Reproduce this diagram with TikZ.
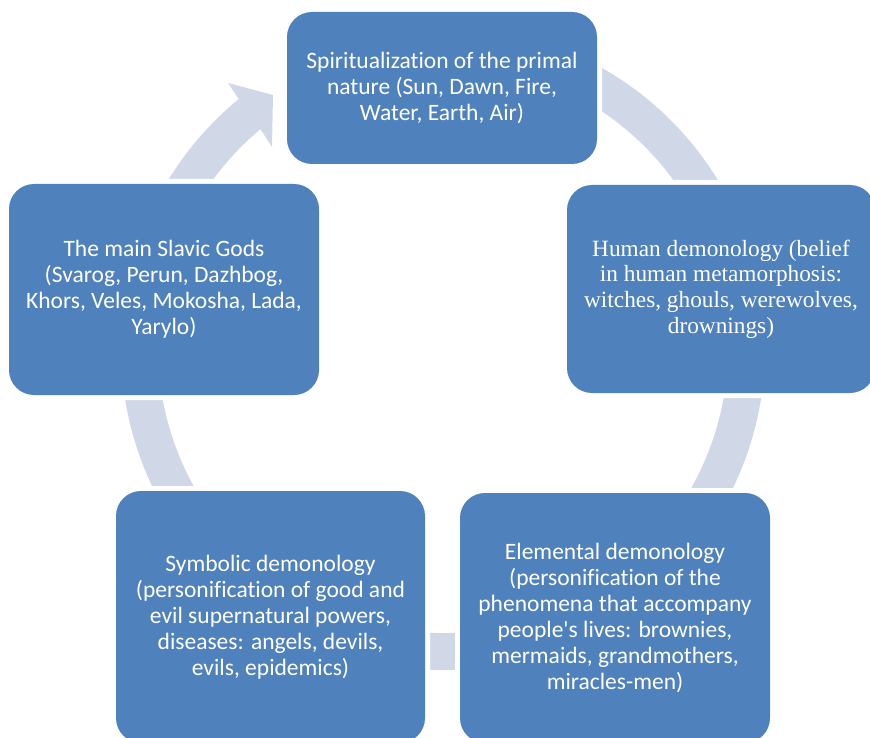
\documentclass[tikz,border=0pt]{standalone}
\usepackage{fontspec}
\setmainfont{Carlito}[Ligatures=NoCommon]
\newfontfamily\seriffont{Liberation Serif}[Ligatures=NoCommon]
\definecolor{boxblue}{HTML}{4F81BD}
\definecolor{ringcol}{HTML}{D0D8E8}
\begin{document}
\begin{tikzpicture}[x=1pt,y=-1pt,
  box/.style={rectangle, rounded corners=25pt, fill=boxblue, text=white,
    inner sep=0pt, align=center, font=\fontsize{23.5}{26}\selectfont,
    preaction={draw=white, line width=10pt}},
  ring/.style={draw=ringcol, line width=37pt}]
\path[use as bounding box, clip] (0,0) rectangle (870,738);
\fill[white] (0,0) rectangle (870,738);
% ring
\draw[ring] (443,348) ++(-110:303.5) arc[start angle=-110, end angle=231.5, radius=303.5];
\fill[ringcol] (238,98) -- (228,83) -- (273,95) -- (272,147) -- (261,130) -- cycle;
% boxes
\node[box, minimum width=310pt, minimum height=152pt] (top) at (442,88)
  {Spiritualization of the primal\\nature (Sun, Dawn, Fire,\\Water, Earth, Air)};
\node[box, minimum width=308pt, minimum height=208pt,
  font=\seriffont\fontsize{23.3}{25.7}\selectfont] (right) at (721,289)
  {Human demonology (belief\\in human metamorphosis:\\witches, ghouls, werewolves,\\drownings)};
\node[box, minimum width=310pt, minimum height=250pt] (botright) at (615,618)
  {Elemental demonology\\(personification of the\\phenomena that accompany\\people\textquotesingle s lives: brownies,\\mermaids, grandmothers,\\miracles-men)};
\node[box, minimum width=309pt, minimum height=252pt] (botleft) at (270.5,617)
  {Symbolic demonology\\(personification of good and\\evil supernatural powers,\\diseases: angels, devils,\\evils, epidemics)};
\node[box, minimum width=310pt, minimum height=211pt] (left) at (164,289.5)
  {The main Slavic Gods\\(Svarog, Perun, Dazhbog,\\Khors, Veles, Mokosha, Lada,\\Yarylo)};
\end{tikzpicture}
\end{document}
